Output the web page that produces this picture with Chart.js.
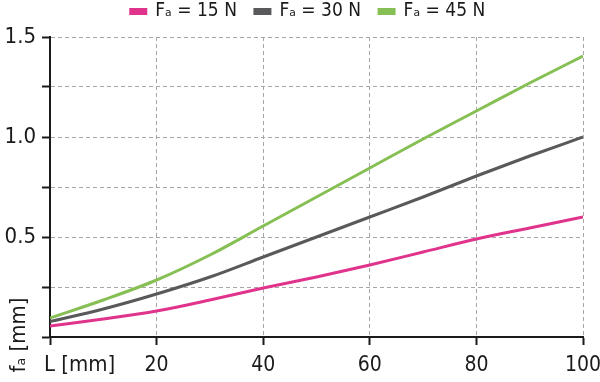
<!DOCTYPE html>
<html><head><meta charset="utf-8">
<script src="https://cdn.jsdelivr.net/npm/chart.js@4"></script>
<style>html,body{margin:0;padding:0;background:#fff}#wrap{width:600px;height:382px;position:relative}</style>
</head><body><div id="wrap"><canvas id="c" width="600" height="382"></canvas></div>
<script>
const lengths = [0,10,20,30,40,50,60,70,80,90,100];
const f15 = [0.055,0.09,0.13,0.185,0.245,0.30,0.36,0.425,0.49,0.545,0.60];
const f30 = [0.077,0.14,0.215,0.30,0.40,0.50,0.60,0.70,0.805,0.905,1.0];
const f45 = [0.095,0.185,0.285,0.41,0.555,0.70,0.845,0.99,1.13,1.27,1.405];
const seriesLabels = ['Fₐ = 15 N','Fₐ = 30 N','Fₐ = 45 N'];
const colors = ['#e0338c','#59595b','#86bf53'];
const xTitle = 'L [mm]';
const yTitle = 'fₐ [mm]';

const FONT = "'DejaVu Sans Condensed','Liberation Sans Narrow',sans-serif";
const pts = arr => arr.map((v,i)=>({x:lengths[i], y:v}));

const legendHeight = {id:'legendHeight', beforeInit(chart){
  const lg = chart.legend;
  const fit = lg.fit;
  lg.fit = function(){ fit.call(lg); lg.height = 37; };
  const draw = lg.draw;
  lg.draw = function(){
    const t = lg.top, l = lg.left, r = lg.right;
    lg.top = t - 16; lg.left = l + 8; lg.right = r + 8;
    draw.call(lg);
    lg.top = t; lg.left = l; lg.right = r;
  };
}};
const titles = {id:'titles', afterDraw(chart){
  const ctx = chart.ctx; ctx.save();
  ctx.fillStyle = '#1a1a1a';
  ctx.font = "22px " + FONT;
  ctx.textBaseline = 'middle'; ctx.textAlign = 'left';
  ctx.fillText(xTitle, 44, 365);
  ctx.translate(19, 335); ctx.rotate(-Math.PI/2);
  ctx.textAlign = 'center';
  ctx.fillText(yTitle, 0, 0);
  ctx.restore();
}};

new Chart(document.getElementById('c'), {
  type:'line',
  data:{ datasets:[f15,f30,f45].map((d,i)=>({
    label: seriesLabels[i], data: pts(d), borderColor: colors[i], backgroundColor: colors[i],
    borderWidth: 3, pointRadius: 0, cubicInterpolationMode:'monotone', fill:false
  }))},
  options:{
    responsive:false, animation:false, devicePixelRatio:1,
    layout:{padding:0},
    plugins:{
      tooltip:{enabled:false},
      legend:{position:'top', align:'center',
        labels:{boxWidth:15, boxHeight:4, padding:18, color:'#1a1a1a', font:{family:FONT, size:19}}}
    },
    scales:{
      x:{type:'linear', min:0, max:100,
        afterFit(s){ s.height = 45; s.paddingRight = 17; s.paddingLeft = 0; },
        ticks:{stepSize:20, color:'#1a1a1a', padding:8, maxRotation:0, font:{family:FONT, size:21},
          callback:v=> v===0 ? '' : String(v)},
        grid:{color:'#a6a6a6', lineWidth:1, tickLength:8, tickColor:'#1a1a1a', tickWidth:2, drawTicks:true},
        border:{display:true, color:'#1a1a1a', width:2, dash:[4,3]}
      },
      y:{min:0, max:1.5,
        afterFit(s){ s.width = 50; },
        ticks:{stepSize:0.25, color:'#1a1a1a', padding:6, font:{family:FONT, size:22},
          callback:v=> (Math.abs(v%0.5)<1e-9 && v!==0) ? v.toFixed(1) : ''},
        grid:{color:'#a6a6a6', lineWidth:1, tickLength:8, tickColor:'#1a1a1a', tickWidth:2},
        border:{display:true, color:'#1a1a1a', width:2, dash:[4,3]}
      }
    }
  },
  plugins:[legendHeight, titles]
});
</script></body></html>
